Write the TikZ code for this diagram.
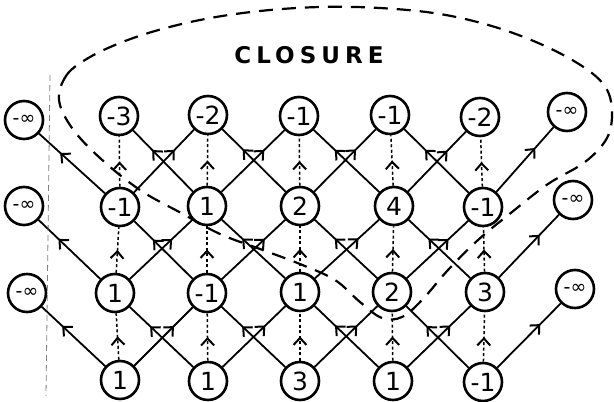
\documentclass[tikz,border=0pt]{standalone}
\usepackage{fontspec}
\setmainfont{DejaVu Sans}
\usetikzlibrary{arrows.meta,decorations.markings}
\begin{document}
\begin{tikzpicture}[x=1pt,y=-1pt,
  blk/.style={circle, draw, line width=2.6pt, minimum size=38pt, inner sep=0pt,
    font=\fontsize{25}{25}\selectfont},
  infblk/.style={blk, font=\fontsize{19}{19}\selectfont},
  diag/.style={line width=1.8pt, postaction={decorate},
    decoration={markings, mark=at position 0.68 with {\arrow{Straight Barb[length=7pt,width=13pt,line width=2pt]}}}},
  vert/.style={line width=1.5pt, dash pattern=on 3pt off 2.5pt, postaction={decorate},
    decoration={markings, mark=at position 0.5 with {\arrow{Straight Barb[length=7pt,width=13pt,line width=2pt]}}}},
  closure/.style={line width=2.2pt, dash pattern=on 14pt off 9pt},
  border/.style={gray, line width=0.8pt, dash pattern=on 6pt off 4pt}]
\useasboundingbox (0,0) rectangle (614,402);

% row 1
\node[infblk] (r1c0) at (24,120) {-∞};
\node[blk] (r1c1) at (119,116) {-3};
\node[blk] (r1c2) at (208,115) {-2};
\node[blk] (r1c3) at (299,116) {-1};
\node[blk] (r1c4) at (390,115) {-1};
\node[blk] (r1c5) at (480,117) {-2};
\node[infblk] (r1c6) at (567,112) {-∞};
% row 2
\node[infblk] (r2c0) at (24,206) {-∞};
\node[blk] (r2c1) at (120,207) {-1};
\node[blk] (r2c2) at (207,206) {1};
\node[blk] (r2c3) at (300,206) {2};
\node[blk] (r2c4) at (394,206) {4};
\node[blk] (r2c5) at (483,207) {-1};
\node[infblk] (r2c6) at (573,200) {-∞};
% row 3
\node[infblk] (r3c0) at (27,293) {-∞};
\node[blk] (r3c1) at (115,293) {1};
\node[blk] (r3c2) at (207,293) {-1};
\node[blk] (r3c3) at (300,292) {1};
\node[blk] (r3c4) at (392,292) {2};
\node[blk] (r3c5) at (485,292) {3};
\node[infblk] (r3c6) at (575,289) {-∞};
% row 4
\node[blk] (r4c1) at (120,380) {1};
\node[blk] (r4c2) at (208,381) {1};
\node[blk] (r4c3) at (300,381) {3};
\node[blk] (r4c4) at (393,381) {1};
\node[blk] (r4c5) at (483,382) {-1};

% connectors
\foreach \r/\u in {2/1,3/2,4/3}{
  \foreach \c in {1,...,5}{
    \pgfmathtruncatemacro\cl{\c-1}
    \pgfmathtruncatemacro\cr{\c+1}
    \draw[diag] (r\r c\c) -- (r\u c\cl);
    \draw[vert] (r\r c\c) -- (r\u c\c);
    \draw[diag] (r\r c\c) -- (r\u c\cr);
  }
}

% left boundary
\coordinate (bt) at (50,75);
\coordinate (bb) at (46,396);
\draw[border] (bt) -- (bb);

% closure
\draw[closure] plot[smooth cycle, tension=0.6] coordinates {
 (59,100) (66,76) (85,60) (115,45) (155,31) (205,19) (260,11) (320,7)
 (380,8) (440,14) (495,27) (545,46) (585,68) (606,88) (612,112) (607,138)
 (585,162) (548,184) (512,212) (478,240) (448,270) (422,300) (402,317)
 (382,318) (360,302) (335,280) (300,264) (260,249) (220,234) (183,214)
 (140,190) (100,158) (72,128)};

\node (title) at (309,55) {\fontsize{23}{23}\selectfont\bfseries\addfontfeatures{LetterSpace=22}CLOSURE};
\end{tikzpicture}
\end{document}
